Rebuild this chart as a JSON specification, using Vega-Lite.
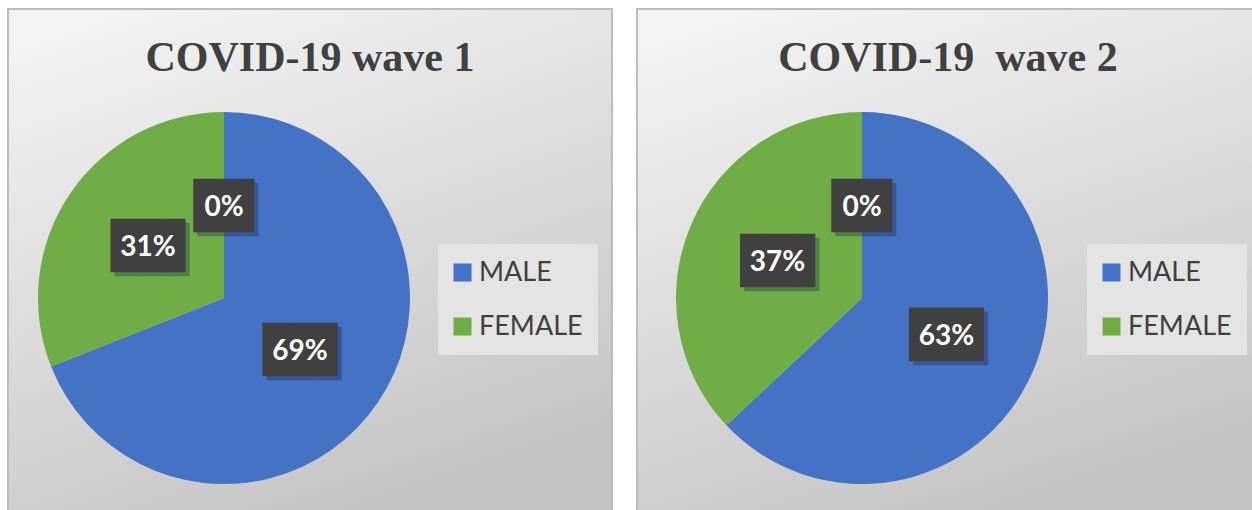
{
  "$schema": "https://vega.github.io/schema/vega-lite/v6.json",
  "padding": {"left": 7, "top": 8, "right": 0, "bottom": 0},
  "background": "white",
  "spacing": 23,
  "datasets": {
    "w1": [
      {"sex": "OTHER", "value": 0},
      {"sex": "MALE", "value": 0.69},
      {"sex": "FEMALE", "value": 0.31}
    ],
    "w2": [
      {"sex": "OTHER", "value": 0},
      {"sex": "MALE", "value": 0.63},
      {"sex": "FEMALE", "value": 0.37}
    ]
  },
  "resolve": {"scale": {"theta": "independent", "color": "independent"}, "legend": {"color": "independent"}},
  "hconcat": [
    {
      "width": 604,
      "height": 510,
      "view": {"stroke": "#bdbdbd", "strokeWidth": 2, "fill": {"gradient": "linear", "x1": 0.2, "y1": 0, "x2": 0.6, "y2": 1, "stops": [{"offset": 0, "color": "#f3f3f3"}, {"offset": 1, "color": "#c4c4c4"}]}},
      "title": {"text": "COVID-19 wave 1", "orient": "top", "anchor": "middle", "frame": "group", "offset": -104, "baseline": "alphabetic", "font": "Liberation Serif", "fontSize": 42, "fontWeight": "bold", "color": "#404040"},
      "data": {"name": "w1"},
      "encoding": {
        "theta": {"field": "value", "type": "quantitative", "stack": true},
        "order": {"field": "sex", "sort": "descending"}
      },
      "layer": [
        {
          "transform": [{"filter": "datum.value > 0"}],
          "mark": {"type": "arc", "x": 216, "y": 289, "outerRadius": 186},
          "encoding": {
            "color": {"field": "sex", "type": "nominal", "scale": {"domain": ["MALE", "FEMALE"], "range": ["#4472C4", "#70AD47"]},
              "legend": {"title": null, "orient": "none", "legendX": 430, "legendY": 235, "fillColor": "#e4e4e4", "padding": 15, "symbolType": "square", "symbolSize": 324, "symbolStrokeWidth": 0, "symbolOffset": -4, "labelFont": "Lato", "labelFontSize": 27, "labelColor": "#404040", "labelOffset": 3, "rowPadding": 26, "labelLimit": 300}}
          }
        },
        {
          "transform": [{"filter": "datum.value < 0.1"}],
          "mark": {"type": "text", "x": 216, "y": 289, "radius": 92, "font": "DejaVu Sans Mono", "fontSize": 45, "baseline": "middle", "align": "center", "dx": 14, "dy": 5, "color": "#1a2a40", "opacity": 0.35},
          "encoding": {"detail": {"field": "sex"}, "text": {"value": "██▎"}}
        },
        {
          "transform": [{"filter": "datum.value >= 0.1"}],
          "mark": {"type": "text", "x": 216, "y": 289, "radius": 92, "font": "DejaVu Sans Mono", "fontSize": 45, "baseline": "middle", "align": "center", "dx": 7.4, "dy": 5, "color": "#1a2a40", "opacity": 0.35},
          "encoding": {"detail": {"field": "sex"}, "text": {"value": "██▊"}}
        },
        {
          "transform": [{"filter": "datum.value < 0.1"}],
          "mark": {"type": "text", "x": 216, "y": 289, "radius": 92, "font": "DejaVu Sans Mono", "fontSize": 45, "baseline": "middle", "align": "center", "dx": 10.2, "dy": 1, "color": "#404040"},
          "encoding": {"detail": {"field": "sex"}, "text": {"value": "██▎"}}
        },
        {
          "transform": [{"filter": "datum.value >= 0.1"}],
          "mark": {"type": "text", "x": 216, "y": 289, "radius": 92, "font": "DejaVu Sans Mono", "fontSize": 45, "baseline": "middle", "align": "center", "dx": 3.4, "dy": 1, "color": "#404040"},
          "encoding": {"detail": {"field": "sex"}, "text": {"value": "██▊"}}
        },
        {
          "mark": {"type": "text", "x": 216, "y": 289, "radius": 92, "font": "Lato", "fontSize": 28, "fontWeight": "bold", "baseline": "middle", "align": "center", "dy": 2, "color": "white"},
          "encoding": {"detail": {"field": "sex"}, "text": {"field": "value", "type": "quantitative", "format": ".0%"}}
        }
      ]
    },
    {
      "width": 622,
      "height": 510,
      "view": {"stroke": "#bdbdbd", "strokeWidth": 2, "fill": {"gradient": "linear", "x1": 0.2, "y1": 0, "x2": 0.6, "y2": 1, "stops": [{"offset": 0, "color": "#f3f3f3"}, {"offset": 1, "color": "#c4c4c4"}]}},
      "title": {"text": "COVID-19\u00a0 wave 2", "orient": "top", "anchor": "middle", "frame": "group", "offset": -104, "baseline": "alphabetic", "font": "Liberation Serif", "fontSize": 42, "fontWeight": "bold", "color": "#404040"},
      "data": {"name": "w2"},
      "encoding": {
        "theta": {"field": "value", "type": "quantitative", "stack": true},
        "order": {"field": "sex", "sort": "descending"}
      },
      "layer": [
        {
          "transform": [{"filter": "datum.value > 0"}],
          "mark": {"type": "arc", "x": 225, "y": 289, "outerRadius": 186},
          "encoding": {
            "color": {"field": "sex", "type": "nominal", "scale": {"domain": ["MALE", "FEMALE"], "range": ["#4472C4", "#70AD47"]},
              "legend": {"title": null, "orient": "none", "legendX": 450, "legendY": 235, "fillColor": "#e4e4e4", "padding": 15, "symbolType": "square", "symbolSize": 324, "symbolStrokeWidth": 0, "symbolOffset": -4, "labelFont": "Lato", "labelFontSize": 27, "labelColor": "#404040", "labelOffset": 3, "rowPadding": 26, "labelLimit": 300}}
          }
        },
        {
          "transform": [{"filter": "datum.value < 0.1"}],
          "mark": {"type": "text", "x": 225, "y": 289, "radius": 92, "font": "DejaVu Sans Mono", "fontSize": 45, "baseline": "middle", "align": "center", "dx": 14, "dy": 5, "color": "#1a2a40", "opacity": 0.35},
          "encoding": {"detail": {"field": "sex"}, "text": {"value": "██▎"}}
        },
        {
          "transform": [{"filter": "datum.value >= 0.1"}],
          "mark": {"type": "text", "x": 225, "y": 289, "radius": 92, "font": "DejaVu Sans Mono", "fontSize": 45, "baseline": "middle", "align": "center", "dx": 7.4, "dy": 5, "color": "#1a2a40", "opacity": 0.35},
          "encoding": {"detail": {"field": "sex"}, "text": {"value": "██▊"}}
        },
        {
          "transform": [{"filter": "datum.value < 0.1"}],
          "mark": {"type": "text", "x": 225, "y": 289, "radius": 92, "font": "DejaVu Sans Mono", "fontSize": 45, "baseline": "middle", "align": "center", "dx": 10.2, "dy": 1, "color": "#404040"},
          "encoding": {"detail": {"field": "sex"}, "text": {"value": "██▎"}}
        },
        {
          "transform": [{"filter": "datum.value >= 0.1"}],
          "mark": {"type": "text", "x": 225, "y": 289, "radius": 92, "font": "DejaVu Sans Mono", "fontSize": 45, "baseline": "middle", "align": "center", "dx": 3.4, "dy": 1, "color": "#404040"},
          "encoding": {"detail": {"field": "sex"}, "text": {"value": "██▊"}}
        },
        {
          "mark": {"type": "text", "x": 225, "y": 289, "radius": 92, "font": "Lato", "fontSize": 28, "fontWeight": "bold", "baseline": "middle", "align": "center", "dy": 2, "color": "white"},
          "encoding": {"detail": {"field": "sex"}, "text": {"field": "value", "type": "quantitative", "format": ".0%"}}
        }
      ]
    }
  ]
}
